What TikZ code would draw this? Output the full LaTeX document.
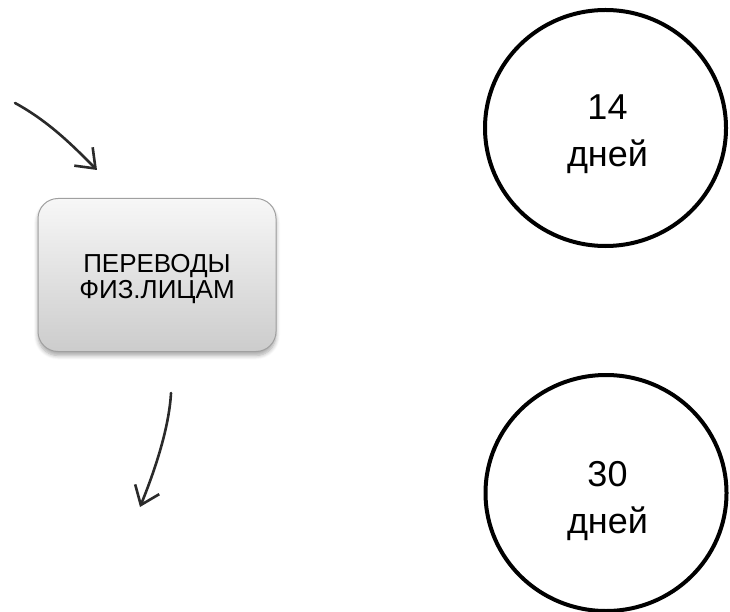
\documentclass[tikz,border=0pt]{standalone}
\usepackage{fontspec}
\setmainfont{Liberation Sans}
\usetikzlibrary{shapes.geometric,arrows.meta,shadows.blur}
\definecolor{arrowgray}{HTML}{2A2A2A}
\definecolor{boxtop}{HTML}{F7F7F7}
\definecolor{boxbot}{HTML}{CCCCCC}
\definecolor{boxedge}{HTML}{A0A0A0}
\tikzset{
  termcircle/.style={ellipse, draw=black, line width=4pt, minimum width=241pt, minimum height=236pt, inner sep=0pt},
  circtext/.style={anchor=base, inner sep=0pt, align=center, font=\fontsize{36}{47}\selectfont},
  procbox/.style={rectangle, rounded corners=20pt, draw=boxedge, line width=1pt, top color=boxtop, bottom color=boxbot, minimum width=238pt, minimum height=153pt, blur shadow={shadow xshift=0pt, shadow yshift=-4pt, shadow opacity=35, shadow blur steps=6, shadow blur radius=4pt}},
  boxtext/.style={anchor=base, inner sep=0pt, align=center, font=\fontsize{26}{26}\selectfont},
  curvearrow/.style={draw=arrowgray, line width=2.6pt, line cap=round, -{Straight Barb[length=17pt, width=26pt, line width=2.6pt]}}
}
\begin{document}
\begin{tikzpicture}[x=1pt,y=-1pt]
\useasboundingbox (0,0) rectangle (730,612);
\node[procbox] (box) at (157,275) {};
\node[boxtext] (boxlabel) at (157,298) {ПЕРЕВОДЫ\\ФИЗ.ЛИЦАМ};
\node[termcircle] (c14) at (605.5,128) {};
\node[circtext] (t14) at (607.5,167) {14\\дней};
\node[termcircle] (c30) at (606,493) {};
\node[circtext] (t30) at (607.5,533) {30\\дней};
\coordinate (a1s) at (15,103);
\coordinate (a1e) at (97,170);
\coordinate (a2s) at (171,393);
\coordinate (a2e) at (140,507);
\draw[curvearrow] (a1s) .. controls (50,122) and (75,148) .. (a1e);
\draw[curvearrow] (a2s) .. controls (169,430) and (153,475) .. (a2e);
\end{tikzpicture}
\end{document}
